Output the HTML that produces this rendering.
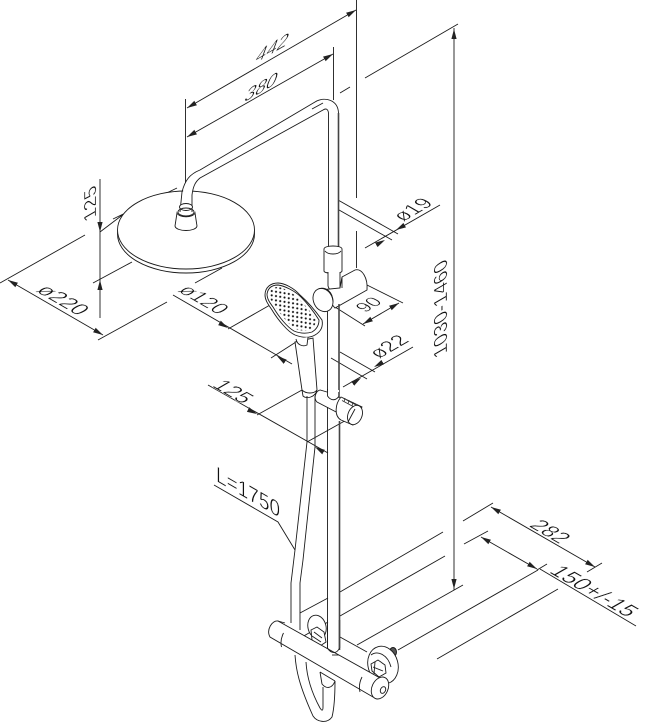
<!DOCTYPE html>
<html><head><meta charset="utf-8">
<style>
html,body{margin:0;padding:0;background:#fff}
svg{display:block}
.l{fill:none;stroke:#1a1a1a;stroke-width:.9}
.w{fill:#fff;stroke:#1a1a1a;stroke-width:.9}
.a{fill:none;stroke:#1a1a1a;stroke-width:.9;marker-start:url(#ar);marker-end:url(#ar)}
.e{fill:none;stroke:none;marker-end:url(#ar)}
text{font-family:"Liberation Sans",sans-serif;font-size:20px;fill:#111;stroke:#fff;stroke-width:.5px}
</style></head><body>
<svg width="646" height="725" viewBox="0 0 646 725" xmlns="http://www.w3.org/2000/svg">
<defs>
<marker id="ar" markerUnits="userSpaceOnUse" markerWidth="10" markerHeight="6" refX="10" refY="3" orient="auto-start-reverse"><path d="M0 .4L10 3L0 5.6z" fill="#222"/></marker>
<pattern id="dots" width="6.6" height="5.6" patternUnits="userSpaceOnUse" patternTransform="rotate(50)"><circle cx="1.6" cy="1.3" r="1.05" fill="#111"/><circle cx="4.9" cy="4.1" r="1.05" fill="#111"/></pattern>
</defs>
<rect width="646" height="725" fill="#fff"/>

<!-- extension & dimension lines -->
<g class="l">
<path d="M185.5 99V186M356.5 0V198M356.5 231V268M333.5 47V100"/>
<path d="M365 78L458 24M340 93L350 87"/>
<path d="M0 283L85 235M100 232L125 213M113 219L177 188M93 283L132 262M195 283L222 268M167 302L98 340M173 295L292 364"/>
<path d="M100 179V318"/>
<path d="M228 329L270 305M271 358L296 342"/>
<path d="M338 200L398 234M332 206L392 240M365 248L440 205"/>
<path d="M335 307L365 326M367 285L403 303M340 352L375 372M331 358L367 379M343 387L413 347"/>
<path d="M208 385L328 453M257 415L302 390M307 442L350 418"/>
<path d="M214 485L278 522L295 550"/>
<path d="M300 613L328 598M340 592L443 532M302 637L328 622M340 616L445 556M357 645L463 585M398 650L538 570M437 659L558 589"/>
<path d="M463 521L493 503M587 572L602 563M464 544L488 531M537 570L547 564M540 569L636 626"/>
<path d="M454 28V590"/>
</g>
<g>
<path class="a" d="M187 108L356 10"/>
<path class="a" d="M187 137L333 54"/>
<path class="a" d="M8 280L103 335"/>
<path class="a" d="M363 324L399 303"/>
<path class="a" d="M491 507L595 567"/>
<path class="a" d="M481 537L537 569"/>
<path class="e" d="M100 222V232"/>
<path class="e" d="M100 290V280"/>
<path class="e" d="M454 40V29"/>
<path class="e" d="M454 580V589"/>
<path class="e" d="M218 322L228 328"/>
<path class="e" d="M287 363L277 356"/>
<path class="e" d="M247 409L257 414"/>
<path class="e" d="M325 453L315 447"/>
<path class="e" d="M376 245L385 240"/>
<path class="e" d="M405 225L396 230"/>
<path class="e" d="M352 384L361 378"/>
<path class="e" d="M383 362L374 367"/>
</g>

<!-- rain head -->
<ellipse class="w" cx="186" cy="234" rx="68.5" ry="39"/>
<ellipse class="w" cx="186" cy="230" rx="68.5" ry="39"/>
<path d="M174 192H198V212H174z" fill="#fff"/>
<!-- arm -->
<path d="M183 192C185 180 190 174 200 170L315 102C325 96 338 100 338.5 113V247H328.5V113C328 109 326 108 323 110L200 178C195 182 193 187 192 195L192 212H180L182 192z" fill="#fff"/>
<g class="l">
<path d="M180 212L182 192C185 180 190 174 200 170L315 102C325 96 338 100 338.5 113"/>
<path d="M192 212V195C193 187 195 182 200 178L323 110C326 108 328 109 328.5 113"/>
<path d="M312 109L323 103"/>
<path d="M328.5 113V248"/>
</g>
<path d="M338.5 113V248" stroke="#444" stroke-width="1.6" fill="none"/>
<ellipse class="w" cx="186" cy="207" rx="6.5" ry="3.5"/>
<path class="w" d="M177 213L175 226C176 232 196 232 197 226L195 213C193 218 179 218 177 213z"/>
<ellipse class="l" cx="186" cy="212" rx="8" ry="4"/>

<!-- upper slider -->
<path class="w" d="M324 249C324 245 342 245 342 249V271C342 274 324 274 324 271z"/>
<path class="l" d="M325 251C328 255 338 255 341 251"/>
<path class="w" d="M328 272V286C330 293 338 293 340 288V272"/>
<path class="w" d="M342 277L355 270C362 268 368 278 367 290L335 308L320 290L340 288z"/>
<path class="l" d="M342 277V288"/>
<!-- lower column upper portion -->
<path class="l" d="M327.5 305V392"/>
<path d="M339 304V392" stroke="#444" stroke-width="1.6" fill="none"/>
<ellipse class="w" cx="323" cy="300" rx="9.5" ry="12" transform="rotate(-25 323 300)"/>
<path class="l" d="M318 289C326 286 333 292 333 302"/>

<!-- lower slider -->
<path class="w" d="M320 390C316 391 313 398 317 402L340 414L345 400L327 392z"/>
<path class="w" d="M341 397L362 407L353 425L341 420C334 416 335 404 341 397z"/>
<path d="M343 398L356 405M342 400.500L355 407.500M345 398L344 402M349 400L348 404M353 402L352 406" stroke="#333" stroke-width=".8" fill="none"/>
<ellipse class="w" cx="355" cy="415" rx="7" ry="10" transform="rotate(22 355 415)"/>
<path class="l" d="M355 409L348 422"/>
<path class="w" d="M327.500 390V396C331 401 336 401 339 396V390H327.500z" style="stroke:none"/>
<path class="l" d="M327.500 389V396C331 401 336 401 339 396"/>
<path d="M339 392V398" stroke="#444" stroke-width="1.6" fill="none"/>

<!-- hand shower -->
<path class="w" d="M295 342L302 390L303 396C306 399 315 398 317 390L313 338z"/>
<path class="l" d="M302 390C306 394 314 394 317 390"/>
<path class="w" d="M265 295C265 287 271 283 278 283C284 283 294 288 300 295C308 302 317 313 322 320C323 325 322 331 315 335C310 338 303 338 295 335C288 332 278 320 272 310C268 304 265 300 265 295z"/>
<path class="l" d="M267 294C268 288 272 285 278 285C285 286 295 291 301 297C307 303 314 312 319 320C319 325 317 329 312 332C306 334 299 333 294 331C287 327 279 317 273 307C270 303 267 299 267 294z"/>
<path d="M269 294C270 290 273 287 278 287C285 288 293 293 299 299C305 305 312 313 316 320C316 324 314 327 310 330C306 331 300 331 296 329C289 325 281 315 275 306C272 302 269 298 269 294z" fill="url(#dots)"/>
<path class="w" d="M296 339C297 345 303 347 307 345L308 337"/>

<!-- lower column -->
<path class="l" d="M327.500 407V650"/>
<path d="M339.500 421V650" stroke="#444" stroke-width="1.6" fill="none"/>

<!-- hose -->
<g class="l">
<path d="M307 396V442L295 550L291 583V623"/>
<path d="M315 396V447L303 560L300 583V630"/>
<path d="M295 655C296 670 299 685 313 716C317 722 327 724 332 717C334 709 335 695 335 681"/>
<path d="M306 662C307 680 314 697 320 708C322 711 323 711 323 707V687"/>
<path d="M320 672L335 681M320 672L322 684C326 689 332 689 335 681"/>
</g>

<!-- valve -->
<ellipse class="w" cx="317" cy="627" rx="9" ry="12" transform="rotate(-15 317 627)"/>
<path class="w" d="M311 630L317 627L324 632L326 642L320 646L312 640z"/>
<path class="l" d="M314 632L322 638M312 636L321 642"/>
<path class="l" d="M340 637L367 652"/>
<ellipse cx="393" cy="652" rx="3.500" ry="4.500" fill="#555" stroke="#111" stroke-width=".9"/>
<ellipse class="w" cx="383" cy="665" rx="15" ry="19" transform="rotate(-15 383 665)"/>
<path class="l" d="M371 655C378 650 388 655 391 667"/>
<path class="w" d="M371 664L378 660L385 665L386 673L379 677L372 671z"/>
<path class="l" d="M373 667L383 671M375 662L374 674"/>
<path class="w" d="M278 621L380 678L373 697L270 637C266 630 272 620 278 621z"/>
<path class="l" d="M283.500 633C281 638 280.500 643 281.500 647M362 677C359 683 359 688 360 692M278 621L285 623"/>
<path class="l" d="M327.500 620V648C331 654 337 654 339.500 648V620"/>
<path d="M327.500 620V648" stroke="#222" stroke-width=".9" fill="none"/>
<path d="M339.500 620V648" stroke="#444" stroke-width="1.5" fill="none"/>
<path class="l" d="M332 655H339"/>
<ellipse class="w" cx="380" cy="688" rx="8" ry="11.500" transform="rotate(25 380 688)"/>
<ellipse class="l" cx="383" cy="690" rx="2.500" ry="3.500" transform="rotate(25 383 690)"/>

<!-- text -->
<text transform="matrix(.866,-.5,-.35,.94,254,64)" style="font-size:22px">442</text>
<text transform="matrix(.866,-.5,-.35,.94,243,103)" style="font-size:22px">380</text>
<text transform="matrix(0,-1,.866,-.5,96,217)">125</text>
<text transform="matrix(.866,.5,-.866,.5,35,291)" style="font-size:22px">ø220</text>
<text transform="matrix(.866,.5,-.866,.5,177,291)" style="font-size:21px">ø120</text>
<text transform="matrix(.866,.5,-.866,.5,211,386)" style="font-size:22px">125</text>
<text transform="matrix(.866,-.5,.866,.5,403,222)" style="font-size:21px">ø19</text>
<text transform="matrix(.866,-.5,.866,.5,379,359)" style="font-size:21px">ø22</text>
<text transform="matrix(.866,-.5,.866,.5,365,313)" style="font-size:19px">90</text>
<text transform="matrix(0,-1,.95,-.55,447,353)">1030-1460</text>
<text transform="matrix(.866,.5,0,1,216,481)" style="font-size:22px">L=1750</text>
<text transform="matrix(.866,.5,-.866,.5,528,526)" style="font-size:22px">282</text>
<text transform="matrix(.866,.5,-.866,.5,548,572)" style="font-size:23px">150+/-15</text>
</svg>
</body></html>
